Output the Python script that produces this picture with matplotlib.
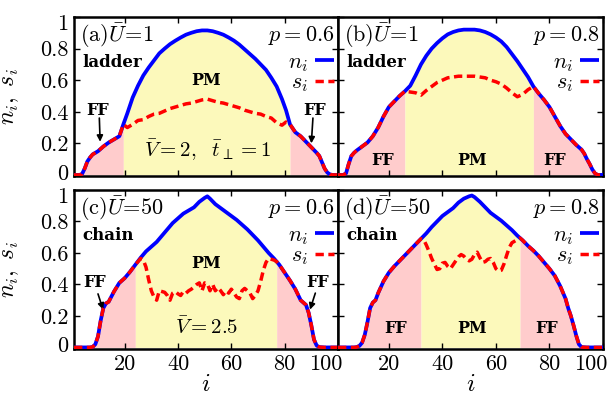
import matplotlib
matplotlib.use('Agg')
import matplotlib.pyplot as plt
import matplotlib.transforms as mtransforms
import numpy as np

plt.rcParams['font.family'] = 'serif'
plt.rcParams['font.serif'] = ['cmr10']
plt.rcParams['mathtext.fontset'] = 'cm'
plt.rcParams['axes.unicode_minus'] = False
plt.rcParams['axes.formatter.use_mathtext'] = True

# ---- данные ----
# (a) ladder, U=1, p=0.6
i_a = [1, 3, 4, 5, 6, 7, 8, 9, 10, 12, 14, 16, 18, 19.5,
       21, 23, 25, 27, 29, 31, 33, 35, 37, 39, 41, 43, 45, 47, 49,
       51, 53, 55, 57, 59, 61, 63, 65, 67, 69, 71, 73, 75, 77, 79,
       80.5, 82, 84, 86, 88, 90, 92, 93, 94, 95, 96, 97, 98, 100]
n_a = [0, 0, 0.005, 0.04, 0.085, 0.11, 0.13, 0.14, 0.15, 0.18, 0.205, 0.225, 0.245, 0.32,
       0.39, 0.49, 0.565, 0.63, 0.68, 0.725, 0.77, 0.80, 0.828, 0.85,
       0.87, 0.888, 0.90, 0.91, 0.915, 0.915, 0.91, 0.90, 0.888, 0.87,
       0.85, 0.825, 0.795, 0.765, 0.735, 0.70, 0.665, 0.615, 0.56, 0.48,
       0.41, 0.32, 0.27, 0.245, 0.21, 0.175, 0.14, 0.12, 0.08, 0.04, 0.015, 0.003, 0, 0]
s_a = [0, 0, 0.005, 0.04, 0.085, 0.11, 0.13, 0.14, 0.15, 0.18, 0.205, 0.225, 0.245, 0.32,
       0.30, 0.32, 0.345, 0.35, 0.37, 0.385, 0.39, 0.405, 0.42, 0.43,
       0.44, 0.45, 0.455, 0.465, 0.475, 0.48, 0.47, 0.46, 0.455, 0.445,
       0.435, 0.425, 0.41, 0.40, 0.39, 0.385, 0.37, 0.36, 0.33, 0.315,
       0.335, 0.32, 0.27, 0.245, 0.21, 0.175, 0.14, 0.12, 0.08, 0.04, 0.015, 0.003, 0, 0]

# (b) ladder, U=1, p=0.8
i_b = [1, 3, 4, 5, 6, 7, 8, 10, 12, 14, 16, 18, 20, 22, 24, 26, 28,
       30, 32, 34, 36, 38, 40, 42, 44, 46, 48, 50, 52, 54, 56, 58,
       60, 62, 64, 66, 68, 70, 72, 74, 76, 78, 80, 82, 84, 86, 88,
       90, 92, 93, 94, 95, 96, 97, 98, 100]
n_b = [0, 0, 0.01, 0.07, 0.12, 0.14, 0.155,
       0.18, 0.205, 0.245, 0.30, 0.37, 0.43, 0.465, 0.50, 0.53, 0.565,
       0.63, 0.70, 0.755, 0.80, 0.835, 0.865, 0.89, 0.905, 0.915, 0.92,
       0.92, 0.92, 0.915, 0.905, 0.89, 0.87, 0.845, 0.81, 0.765, 0.72,
       0.67, 0.62, 0.56, 0.515, 0.475, 0.43, 0.37, 0.31, 0.26, 0.225,
       0.19, 0.16, 0.135, 0.10, 0.07, 0.035, 0.01, 0, 0]
s_b = [0, 0, 0.01, 0.07, 0.12, 0.14, 0.155,
       0.18, 0.205, 0.245, 0.30, 0.37, 0.43, 0.465, 0.50,
       0.53, 0.525, 0.52, 0.505, 0.535, 0.56, 0.585, 0.60, 0.615, 0.62,
       0.625, 0.625, 0.625, 0.625, 0.62, 0.615, 0.60, 0.59, 0.575, 0.55,
       0.52, 0.495, 0.51, 0.54, 0.56,
       0.515, 0.475, 0.43, 0.37, 0.31, 0.26, 0.225, 0.19, 0.16,
       0.135, 0.10, 0.07, 0.035, 0.01, 0, 0]

# (c) chain, U=50, p=0.6
i_c = [1, 3, 5, 7, 8, 9, 10, 11, 12, 13, 14, 16, 18, 20, 22, 24,
       26, 28, 30, 32, 34, 36, 38, 40, 42, 44, 46, 48, 50, 51,
       52, 54, 56, 58, 60, 62, 64, 66, 68, 70, 72, 74, 76, 77,
       78, 80, 82, 84, 86, 87, 88, 89, 90, 91, 92, 93, 95, 97, 100]
n_c = [0, 0, 0, 0, 0.003, 0.02, 0.07, 0.17, 0.25, 0.28, 0.29, 0.355, 0.41, 0.44, 0.48, 0.525,
       0.57, 0.61, 0.64, 0.67, 0.71, 0.75, 0.79, 0.82, 0.85, 0.87, 0.89, 0.925, 0.95, 0.96,
       0.945, 0.91, 0.885, 0.86, 0.835, 0.81, 0.78, 0.75, 0.715, 0.68, 0.64, 0.60, 0.565, 0.545,
       0.525, 0.475, 0.425, 0.37, 0.30, 0.285, 0.27, 0.22, 0.14, 0.05, 0.012, 0.002, 0, 0, 0]
i_s_c = np.r_[[1, 3, 5, 7, 8, 9, 10, 11, 12, 13, 14, 16, 18, 20, 22], np.arange(24, 78),
              [78, 80, 82, 84, 86, 87, 88, 89, 90, 91, 92, 93, 95, 97, 100]]
s_c = [0, 0, 0, 0, 0.003, 0.02, 0.07, 0.17, 0.25, 0.28, 0.29, 0.355, 0.41, 0.44, 0.48,
       0.525, 0.545, 0.565, 0.555, 0.51, 0.43, 0.36, 0.32, 0.30, 0.36,
       0.355, 0.35, 0.33, 0.30, 0.345, 0.355, 0.34, 0.33, 0.355, 0.345,
       0.36, 0.37, 0.385, 0.40, 0.41, 0.36, 0.41, 0.405, 0.36, 0.40,
       0.36, 0.38, 0.36, 0.335, 0.36, 0.345, 0.37, 0.345, 0.32, 0.31,
       0.36, 0.375, 0.36, 0.345, 0.31, 0.33, 0.36, 0.42, 0.49, 0.54,
       0.565, 0.56, 0.555, 0.545,
       0.525, 0.475, 0.425, 0.37, 0.30, 0.285, 0.27, 0.22, 0.14, 0.05, 0.012, 0.002, 0, 0, 0]

# (d) chain, U=50, p=0.8
i_d = [1, 3, 5, 7, 8, 9, 10, 11, 12, 13, 14, 15, 16,
       18, 20, 22, 24, 26, 28, 30, 32, 34, 36, 38, 40, 42, 44, 46, 48, 50, 51,
       52, 54, 56, 58, 60, 62, 64, 66, 68, 69,
       70, 72, 74, 76, 78, 80, 82, 84, 85, 86, 87, 88, 89, 90, 91, 92, 94, 97, 100]
n_d = [0, 0, 0, 0, 0.002, 0.01, 0.03, 0.08, 0.16, 0.25, 0.285, 0.30, 0.345,
       0.42, 0.475, 0.515, 0.55, 0.585, 0.62, 0.655, 0.69, 0.725, 0.765, 0.80, 0.835,
       0.86, 0.885, 0.92, 0.945, 0.96, 0.965,
       0.955, 0.925, 0.89, 0.855, 0.83, 0.805, 0.775, 0.745, 0.71, 0.695,
       0.68, 0.645, 0.615, 0.58, 0.54, 0.50, 0.455, 0.39, 0.35, 0.31, 0.25, 0.20,
       0.14, 0.075, 0.02, 0.002, 0, 0, 0]
i_s_d = np.r_[[1, 3, 5, 7, 8, 9, 10, 11, 12, 13, 14, 15, 16, 18, 20, 22, 24, 26, 28, 30],
              np.arange(32, 70),
              [70, 72, 74, 76, 78, 80, 82, 84, 85, 86, 87, 88, 89, 90, 91, 92, 94, 97, 100]]
s_d = [0, 0, 0, 0, 0.002, 0.01, 0.03, 0.08, 0.16, 0.25, 0.285, 0.30, 0.345,
       0.42, 0.475, 0.515, 0.55, 0.585, 0.62, 0.655,
       0.69, 0.685, 0.65, 0.61, 0.565, 0.53, 0.495, 0.50, 0.535, 0.54,
       0.515, 0.50, 0.525, 0.55, 0.575, 0.59, 0.58, 0.56, 0.55, 0.56,
       0.59, 0.605, 0.57, 0.54, 0.545, 0.56, 0.565, 0.54, 0.50, 0.485,
       0.49, 0.53, 0.585, 0.635, 0.665, 0.675, 0.685, 0.695,
       0.68, 0.645, 0.615, 0.58, 0.54, 0.50, 0.455, 0.39, 0.35, 0.31, 0.25, 0.20,
       0.14, 0.075, 0.02, 0.002, 0, 0, 0]

# границы области PM
pm_a = (19.5, 82)
pm_b = (26, 74)
pm_c = (24, 77)
pm_d = (32, 69)

labels = ['(a)', '(b)', '(c)', '(d)']
u_vals = ['1', '1', '50', '50']
p_vals = ['0.6', '0.8', '0.6', '0.8']
geom = ['ladder', 'ladder', 'chain', 'chain']

pink = '#ffcccc'
yellow = '#fcf9bb'
blue = '#0000ff'
red = '#ff0000'

fig = plt.figure(figsize=(6.08, 3.99), dpi=100)
W, H = 608, 399
boxes = [(74, 17, 338, 176.5), (338, 17, 603, 176.5),
         (74, 190, 338, 349), (338, 190, 603, 349)]
axes = []
for (x0, y0, x1, y1) in boxes:
    axes.append(fig.add_axes([x0 / W, 1 - y1 / H, (x1 - x0) / W, (y1 - y0) / H]))

panels = [(i_a, n_a, i_a, s_a, pm_a), (i_b, n_b, i_b, s_b, pm_b),
          (i_c, n_c, i_s_c, s_c, pm_c), (i_d, n_d, i_s_d, s_d, pm_d)]

def shift(text, dx, dy):
    # сдвиг подписи в пикселях
    off = mtransforms.ScaledTranslation(dx / 100, dy / 100, fig.dpi_scale_trans)
    text.set_transform(text.get_transform() + off)

for k, ax in enumerate(axes):
    xi, n, xs, s, pm = panels[k]
    xi = np.asarray(xi, dtype=float)
    n = np.asarray(n)
    ax.fill_between(xi, 0, n, where=xi <= pm[0], color=pink, lw=0, zorder=1)
    ax.fill_between(xi, 0, n, where=(xi >= pm[0]) & (xi <= pm[1]), color=yellow, lw=0, zorder=1)
    ax.fill_between(xi, 0, n, where=xi >= pm[1], color=pink, lw=0, zorder=1)
    ax.plot(xi, n, color=blue, lw=2.7, label=r'$n_i$', zorder=3, solid_capstyle='butt')
    ax.plot(xs, s, color=red, lw=2.5, dashes=(2.4, 1.3), label=r'$s_i$', zorder=4)

    ax.set_xlim(1, 100)
    ax.set_ylim(-0.01, 1.0)
    ax.set_xticks([20, 40, 60, 80, 100])
    ax.set_yticks([0, 0.2, 0.4, 0.6, 0.8, 1])
    ax.set_yticklabels(['0', '0.2', '0.4', '0.6', '0.8', '1'])
    ax.tick_params(direction='in', top=True, right=True, length=4, width=1,
                   labelsize=16, pad=4)
    for sp in ax.spines.values():
        sp.set_linewidth(1.8)
    if k < 2:
        ax.tick_params(labelbottom=False)
    else:
        ax.set_xticklabels(['20', '40', '60', '80', '100'])
        shift(ax.get_xticklabels()[-1], -12, 0)
        ax.set_xlabel(r'$i$', fontsize=18, labelpad=0)
    if k % 2 == 1:
        ax.tick_params(labelleft=False)
    else:
        ylabs = ax.get_yticklabels()
        shift(ylabs[0], 0, 3)
        shift(ylabs[-1], 0, -5)
        ax.set_ylabel(r'$n_i,\ s_i$', fontsize=17)
        ax.yaxis.set_label_coords(-0.2, 0.5)

    ax.text(0.022, 0.885, labels[k] + r'$\bar{U}\!=\!' + u_vals[k] + '$',
            transform=ax.transAxes, fontsize=16, ha='left', va='center')
    ax.text(0.985, 0.885, r'$p=' + p_vals[k] + '$', transform=ax.transAxes,
            fontsize=16, ha='right', va='center')
    ax.text(0.03, 0.715, geom[k], transform=ax.transAxes, family='DejaVu Serif',
            fontweight='bold', fontsize=12, ha='left', va='center')
    ax.legend(loc='upper right', bbox_to_anchor=(0.985, 0.777), frameon=False,
              markerfirst=False, fontsize=16, handlelength=0.85, handletextpad=0.3,
              labelspacing=-0.04, borderpad=0, borderaxespad=0)

ax_a, ax_b, ax_c, ax_d = axes
bold = dict(fontsize=11.5, ha='center', va='center', family='DejaVu Serif', fontweight='bold')
arrow = dict(arrowstyle='-|>', color='k', lw=1.2, mutation_scale=9, shrinkA=0, shrinkB=0)

# (a)
ax_a.text(50.6, 0.60, 'PM', **bold)
ax_a.text(10, 0.41, 'FF', **bold)
ax_a.text(91.3, 0.41, 'FF', **bold)
ax_a.annotate('', xy=(10.8, 0.21), xytext=(10.5, 0.36), arrowprops=arrow)
ax_a.annotate('', xy=(90.0, 0.20), xytext=(90.6, 0.36), arrowprops=arrow)
ax_a.text(51, 0.155, r'$\bar{V}=2,\ \ \bar{t}_\perp=1$', fontsize=15, ha='center', va='center')

# (b)
ax_b.text(17.8, 0.09, 'FF', **bold)
ax_b.text(50.9, 0.09, 'PM', **bold)
ax_b.text(82.1, 0.09, 'FF', **bold)

# (c)
ax_c.text(50.6, 0.53, 'PM', **bold)
ax_c.text(8.75, 0.415, 'FF', **bold)
ax_c.text(92.5, 0.415, 'FF', **bold)
ax_c.annotate('', xy=(11.9, 0.24), xytext=(10.0, 0.34), arrowprops=arrow)
ax_c.annotate('', xy=(89.5, 0.24), xytext=(91.5, 0.345), arrowprops=arrow)
ax_c.text(50.6, 0.13, r'$\bar{V}=2.5$', fontsize=15, ha='center', va='center')

# (d)
ax_d.text(22.5, 0.12, 'FF', **bold)
ax_d.text(51.2, 0.12, 'PM', **bold)
ax_d.text(78.8, 0.12, 'FF', **bold)

fig.savefig('out.png', dpi=100)
